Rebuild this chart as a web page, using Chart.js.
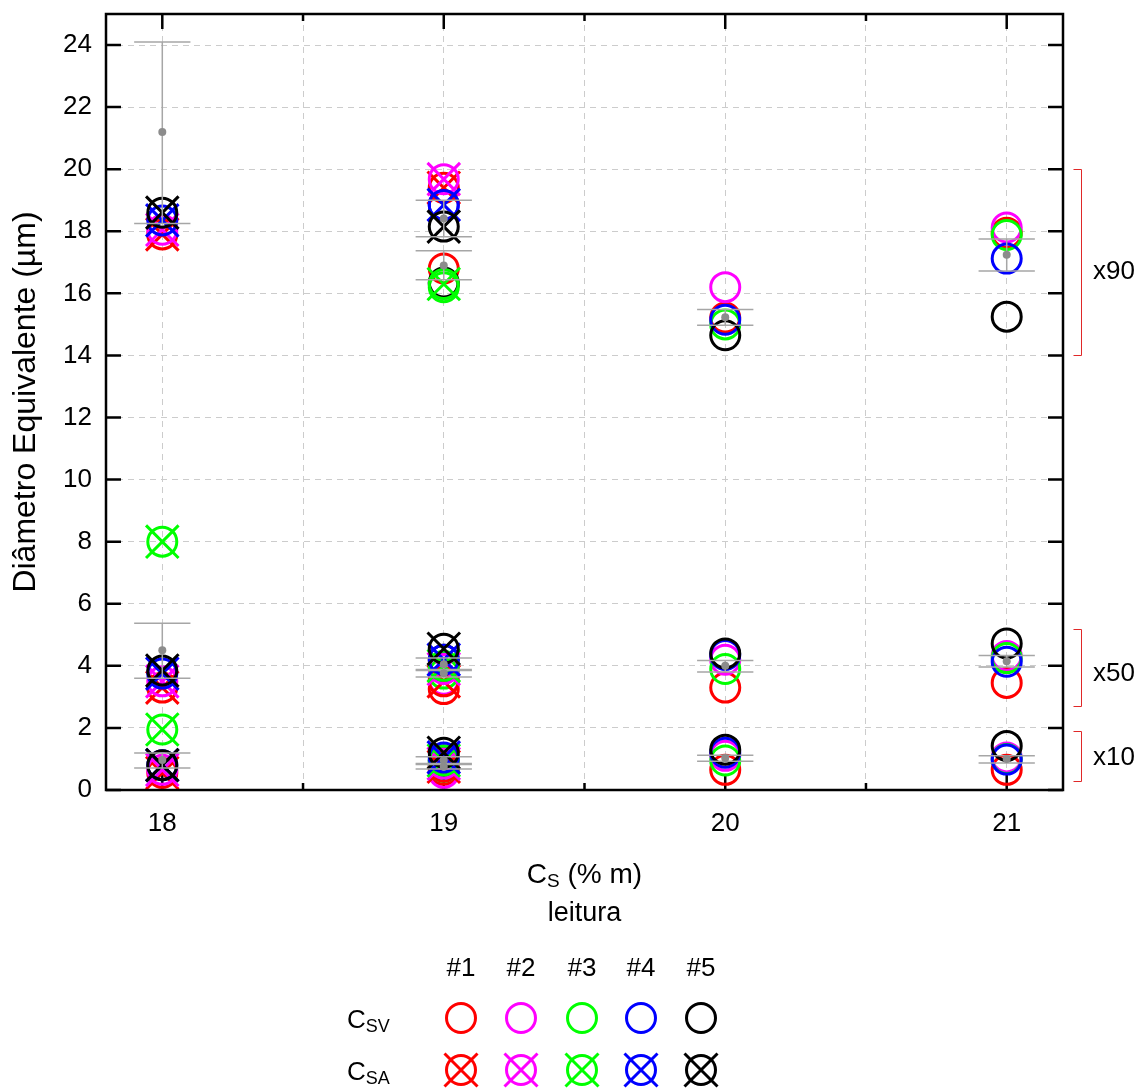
<!DOCTYPE html>
<html>
<head>
<meta charset="utf-8">
<script src="https://cdn.jsdelivr.net/npm/chart.js@4/dist/chart.umd.min.js"></script>
<style>
    html, body { margin: 0; padding: 0; background: #fff; }
</style>
</head>
<body>
<canvas id="diamChart" width="1139" height="1089"></canvas>
<script>
// samples and their colours
const sampleLabels = ['#1', '#2', '#3', '#4', '#5'];
const sampleColors = ['#ff0000', '#ff00ff', '#00ff00', '#0000ff', '#000000'];

// C_SA readings (crossed circles) at C_S = 18 and 19, one row per sample
const csaX = [18, 19];
const csaX10 = [[0.55, 0.75], [0.65, 0.85], [1.95, 0.95], [0.8, 1.05], [0.8, 1.2]];
const csaX50 = [[3.3, 3.5], [3.5, 3.9], [8.0, 4.0], [3.75, 4.2], [3.85, 4.55]];
const csaX90 = [[17.9, 19.4], [18.05, 19.68], [null, 16.3], [18.35, 18.85], [18.6, 18.15]];

// C_SV readings (open circles) at C_S = 19, 20 and 21
const csvX = [19, 20, 21];
const csvX10 = [[0.65, 0.65, 0.65], [0.55, 1.1, 1.05], [0.75, 0.95, 1.0], [0.85, 1.2, 0.98], [0.95, 1.3, 1.42]];
const csvX50 = [[3.25, 3.3, 3.45], [3.55, 4.2, 4.32], [3.75, 3.9, 4.25], [3.95, 4.35, 4.13], [4.2, 4.4, 4.72]];
const csvX90 = [[16.8, 15.22, 17.95], [16.3, 16.2, 18.12], [16.2, 15.0, 17.88], [18.85, 15.15, 17.12], [16.35, 14.65, 15.25]];

// grey mean points with error bars
const errX    = [18, 18, 18, 19, 19, 19, 19, 19, 19, 20, 20, 20, 21, 21, 21];
const errMean = [0.97, 4.5, 21.2, 0.96, 4.05, 18.41, 0.75, 3.76, 16.9, 1.03, 4.0, 15.23, 1.0, 4.15, 17.24];
const errLow  = [0.71, 3.6, 18.25, 0.85, 3.85, 17.82, 0.68, 3.64, 16.44, 0.93, 3.8, 14.97, 0.87, 3.96, 16.72];
const errHigh = [1.19, 5.37, 24.1, 1.07, 4.25, 19.0, 0.82, 3.88, 17.37, 1.12, 4.17, 15.48, 1.1, 4.33, 17.75];

// magnification brackets on the right
const magLabels = ['x10', 'x50', 'x90'];
const magRanges = [[0.3, 1.9], [2.7, 5.2], [14, 20]];
const magLabelY = [1.05, 3.75, 16.7];

const FONT = 'Liberation Sans, Arial, Helvetica, sans-serif';
const CAP = 0.1;

function points(xs, vals) {
    const out = [];
    vals.forEach((v, i) => {
        if (v !== null) out.push({ x: xs[i], y: v });
    });
    return out;
}

const datasets = [];

sampleLabels.forEach((name, s) => {
    const col = sampleColors[s];
    const csv = [].concat(points(csvX, csvX10[s]), points(csvX, csvX50[s]), points(csvX, csvX90[s]));
    const csa = [].concat(points(csaX, csaX10[s]), points(csaX, csaX50[s]), points(csaX, csaX90[s]));
    const base = {
        type: 'scatter',
        pointBorderColor: col,
        borderColor: col,
        pointBackgroundColor: 'rgba(0,0,0,0)',
        backgroundColor: 'rgba(0,0,0,0)',
        pointBorderWidth: 3,
        borderWidth: 3
    };
    datasets.push(Object.assign({}, base, { label: 'CSV ' + name, data: csv, pointStyle: 'circle', pointRadius: 14.5, order: 20 - s }));
    datasets.push(Object.assign({}, base, { label: 'CSA ' + name, data: csa, pointStyle: 'circle', pointRadius: 14.5, order: 10 - s }));
    datasets.push(Object.assign({}, base, { label: 'CSA x ' + name, data: csa, pointStyle: 'crossRot', pointRadius: 23, order: 9.5 - s }));
});

errX.forEach((x, i) => {
    const lo = errLow[i], hi = errHigh[i];
    datasets.push({
        type: 'line',
        label: 'err' + i,
        data: [
            { x: x - CAP, y: lo }, { x: x + CAP, y: lo }, { x: x, y: lo },
            { x: x, y: hi }, { x: x - CAP, y: hi }, { x: x + CAP, y: hi }
        ],
        borderColor: '#a6a6a6',
        borderWidth: 1.5,
        pointRadius: 0,
        fill: false,
        tension: 0,
        order: 0
    });
});

datasets.push({
    type: 'scatter',
    label: 'mean',
    data: errX.map((x, i) => ({ x: x, y: errMean[i] })),
    pointRadius: 4,
    pointBorderWidth: 0,
    pointBackgroundColor: '#8c8c8c',
    order: -1
});

function subText(ctx, main, sub, x, y, align, size, subSize) {
    ctx.font = size + 'px ' + FONT;
    const w1 = ctx.measureText(main).width;
    const w3 = ctx.measureText(sub.after || '').width;
    ctx.font = subSize + 'px ' + FONT;
    const w2 = ctx.measureText(sub.text).width;
    let left = x;
    if (align === 'center') left = x - (w1 + w2 + w3) / 2;
    ctx.textAlign = 'left';
    ctx.textBaseline = 'alphabetic';
    ctx.font = size + 'px ' + FONT;
    ctx.fillText(main, left, y);
    ctx.font = subSize + 'px ' + FONT;
    ctx.fillText(sub.text, left + w1, y + 4);
    if (sub.after) {
        ctx.font = size + 'px ' + FONT;
        ctx.fillText(sub.after, left + w1 + w2, y);
    }
}

const decor = {
    id: 'decor',
    beforeDatasetsDraw(chart) {
        const { ctx, chartArea: a, scales: { x, y } } = chart;
        ctx.save();
        ctx.strokeStyle = '#000';
        ctx.lineWidth = 2.5;
        ctx.beginPath();
        for (let v = 0; v <= 24; v += 2) {
            const py = y.getPixelForValue(v);
            ctx.moveTo(a.left, py); ctx.lineTo(a.left + 15, py);
            ctx.moveTo(a.right, py); ctx.lineTo(a.right - 15, py);
        }
        for (let v = 18; v <= 21; v += 0.5) {
            const px = x.getPixelForValue(v);
            const len = Number.isInteger(v) ? 15 : 7;
            ctx.moveTo(px, a.bottom); ctx.lineTo(px, a.bottom - len);
            ctx.moveTo(px, a.top); ctx.lineTo(px, a.top + len);
        }
        ctx.stroke();
        ctx.restore();
    },
    afterDraw(chart) {
        const { ctx, chartArea: a, scales: { y } } = chart;
        ctx.save();
        // frame
        ctx.strokeStyle = '#000';
        ctx.lineWidth = 2.5;
        ctx.strokeRect(a.left, a.top, a.right - a.left, a.bottom - a.top);

        ctx.fillStyle = '#000';
        // y title
        ctx.save();
        ctx.translate(26, (a.top + a.bottom) / 2);
        ctx.rotate(-Math.PI / 2);
        ctx.font = '32px ' + FONT;
        ctx.textAlign = 'center';
        ctx.textBaseline = 'middle';
        ctx.fillText('Diâmetro Equivalente (µm)', 0, 0);
        ctx.restore();

        // x title
        const cx = (a.left + a.right) / 2;
        subText(ctx, 'C', { text: 'S', after: ' (% m)' }, cx, 883, 'center', 28, 19);
        ctx.font = '27px ' + FONT;
        ctx.textAlign = 'center';
        ctx.fillText('leitura', cx, 921);

        // magnification brackets
        ctx.strokeStyle = '#e02828';
        ctx.lineWidth = 1;
        magRanges.forEach((r, i) => {
            const y1 = Math.round(y.getPixelForValue(r[1])) + 0.5;
            const y0 = Math.round(y.getPixelForValue(r[0])) + 0.5;
            const bx = a.right + 18.5;
            ctx.beginPath();
            ctx.moveTo(bx - 8, y1); ctx.lineTo(bx, y1); ctx.lineTo(bx, y0); ctx.lineTo(bx - 8, y0);
            ctx.stroke();
            ctx.font = '26px ' + FONT;
            ctx.textAlign = 'left';
            ctx.textBaseline = 'middle';
            ctx.fillText(magLabels[i], a.right + 30, y.getPixelForValue(magLabelY[i]));
        });

        // legend table
        const colX = [461, 521, 582, 641, 701];
        ctx.font = '26px ' + FONT;
        ctx.textAlign = 'center';
        ctx.textBaseline = 'alphabetic';
        sampleLabels.forEach((t, i) => ctx.fillText(t, colX[i], 976));
        subText(ctx, 'C', { text: 'SV' }, 347, 1028, 'left', 26, 18);
        subText(ctx, 'C', { text: 'SA' }, 347, 1080, 'left', 26, 18);
        ctx.lineWidth = 3;
        sampleColors.forEach((c, i) => {
            ctx.strokeStyle = c;
            ctx.beginPath();
            ctx.arc(colX[i], 1018, 14.5, 0, Math.PI * 2);
            ctx.stroke();
            ctx.beginPath();
            ctx.arc(colX[i], 1070, 14.5, 0, Math.PI * 2);
            ctx.moveTo(colX[i] - 16.5, 1070 - 16.5); ctx.lineTo(colX[i] + 16.5, 1070 + 16.5);
            ctx.moveTo(colX[i] + 16.5, 1070 - 16.5); ctx.lineTo(colX[i] - 16.5, 1070 + 16.5);
            ctx.stroke();
        });
        ctx.restore();
    }
};

Chart.defaults.font.family = FONT;
Chart.defaults.color = '#000';

const diamChart = new Chart(document.getElementById('diamChart').getContext('2d'), {
    type: 'scatter',
    data: { datasets: datasets },
    options: {
        responsive: false,
        animation: false,
        events: [],
        devicePixelRatio: 1,
        layout: { autoPadding: false, padding: { left: 0, top: 14, right: 76, bottom: 249 } },
        plugins: { legend: { display: false }, tooltip: { enabled: false } },
        scales: {
            x: {
                type: 'linear',
                min: 17.8,
                max: 21.2,
                ticks: {
                    stepSize: 0.5,
                    includeBounds: false,
                    autoSkip: false,
                    maxRotation: 0,
                    padding: 18,
                    font: { size: 26 },
                    callback: v => Number.isInteger(v) ? String(v) : ''
                },
                grid: { color: '#cccccc', lineWidth: 1, drawTicks: false },
                border: { display: false, dash: [6, 5] },
                afterFit: s => { s.height = 50; s.paddingLeft = 0; s.paddingRight = 0; }
            },
            y: {
                type: 'linear',
                min: 0,
                max: 25,
                ticks: { stepSize: 2, includeBounds: false, padding: 14, font: { size: 26 } },
                grid: { color: '#cccccc', lineWidth: 1, drawTicks: false },
                border: { display: false, dash: [6, 5] },
                afterFit: s => { s.width = 106; s.paddingTop = 0; s.paddingBottom = 0; }
            }
        }
    },
    plugins: [decor]
});
</script>
</body>
</html>
